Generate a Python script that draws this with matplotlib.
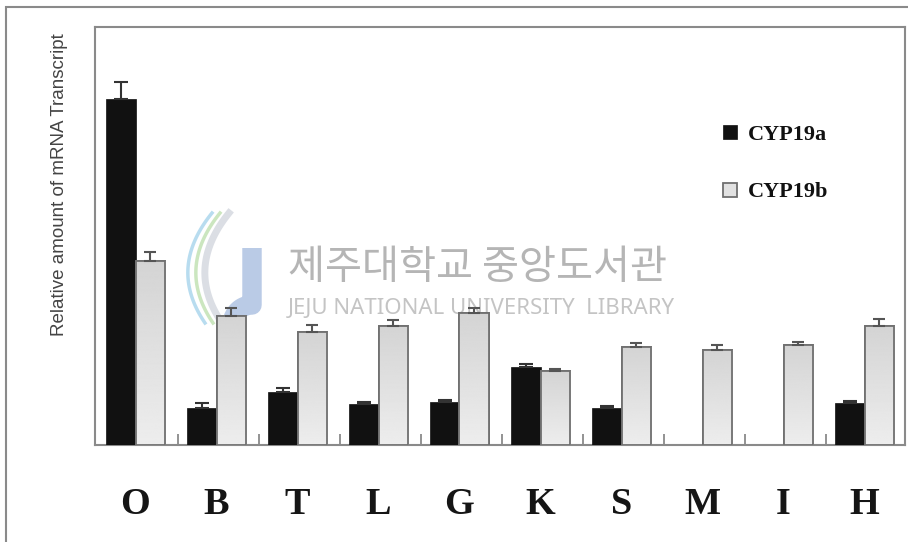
import matplotlib.pyplot as plt
import numpy as np
from matplotlib.patches import Rectangle

# tissues and relative transcript levels (arbitrary units)
tissues = ['O', 'B', 'T', 'L', 'G', 'K', 'S', 'M', 'I', 'H']
cyp19a = [3.46, 0.37, 0.53, 0.41, 0.43, 0.78, 0.37, 0.0, 0.0, 0.42]
cyp19a_err = [0.17, 0.05, 0.04, 0.02, 0.02, 0.03, 0.02, 0.0, 0.0, 0.02]
cyp19b = [1.84, 1.29, 1.13, 1.19, 1.32, 0.74, 0.98, 0.95, 1.00, 1.19]
cyp19b_err = [0.09, 0.08, 0.07, 0.06, 0.05, 0.02, 0.04, 0.05, 0.03, 0.07]

fig = plt.figure(figsize=(9.08, 5.42), dpi=100)
ax = fig.add_axes([95/908, 1-445/542, 810/908, 418/542])

def px(xp, yp):
    # pixel position in the picture -> axes fraction (for the watermark only)
    return (np.asarray(xp) - 95) / 810, (445 - np.asarray(yp)) / 418

x = np.arange(len(tissues))
w = 0.37
xa = x - w/2
xb = x + w/2

ba = ax.bar(xa, cyp19a, w, color='#111111', edgecolor='#111111', lw=0.5, zorder=3, label='CYP19a')
bb = ax.bar(xb, cyp19b, w, color='#e2e2e2', edgecolor='#707070', lw=1.3, zorder=3, label='CYP19b')

# vertical gradient inside the grey bars
grad = np.linspace(0.93, 0.83, 256).reshape(-1, 1)
for r in bb.patches:
    x0, y0 = r.get_x(), r.get_y()
    im = ax.imshow(grad, cmap='gray', vmin=0, vmax=1, aspect='auto', origin='lower',
                   extent=(x0, x0 + r.get_width(), y0, y0 + r.get_height()), zorder=3.5)
    im.set_clip_path(r)
ax.bar(xb, cyp19b, w, fill=False, edgecolor='#707070', lw=1.3, zorder=4)

# one-sided error bars
for i in range(len(x)):
    if cyp19a[i] > 0:
        ax.errorbar(xa[i], cyp19a[i], yerr=[[0], [cyp19a_err[i]]], fmt='none',
                    ecolor='#333333', elinewidth=1.5, capsize=5, capthick=1.5, zorder=5)
    ax.errorbar(xb[i], cyp19b[i], yerr=[[0], [cyp19b_err[i]]], fmt='none',
                ecolor='#555555', elinewidth=1.5, capsize=4, capthick=1.5, zorder=5)

ax.set_xlim(-0.5, 9.5)
ax.set_ylim(0, 4.18)
ax.set_yticks([])
ax.set_xticks(np.arange(9) + 0.52)
ax.set_xticklabels([])
ax.tick_params(axis='x', direction='in', length=8, width=1.2, color='#808080')
for s in ax.spines.values():
    s.set_color('#8a8a8a')
    s.set_linewidth(1.5)

for i, t in enumerate(tissues):
    ax.text(x[i], -0.6, t, ha='center', va='center', fontsize=27.5, fontweight='bold',
            family='Liberation Serif', color='#151515')

fig.text(60/908, 1-185/542, 'Relative amount of mRNA Transcript', rotation=90,
         ha='center', va='center', fontsize=13.5, family='Liberation Sans', color='#444444')

leg = ax.legend(handles=[ba, bb], loc='upper left', bbox_to_anchor=(0.762, 0.793),
                frameon=False, handlelength=0.6, handleheight=0.6, handletextpad=0.5,
                labelspacing=1.7, borderpad=0,
                prop={'family': 'Liberation Serif', 'weight': 'bold', 'size': 16})
for txt in leg.get_texts():
    txt.set_color('#111111')

# library watermark
ax.text(*px(288, 267), '제주대학교 중앙도서관', transform=ax.transAxes, fontsize=29,
        family=['Noto Sans CJK KR', 'DejaVu Sans'], color='#b5b5b5', va='center', zorder=1)
ax.text(*px(288, 309), 'JEJU NATIONAL UNIVERSITY  LIBRARY', transform=ax.transAxes, fontsize=16,
        family='Noto Sans', color='#c4c4c4', va='center', zorder=1)
tt = np.linspace(0, 1, 60)
sx = 212 - 89*tt + 82*tt**2
sy = 213 + 110*tt
for dx, col, lw in [(0, '#a6d4ec', 2.5), (8, '#bfe0b0', 2.5), (17, '#d2d6de', 5)]:
    ax.plot(*px(sx + dx, sy), transform=ax.transAxes, color=col, lw=lw, alpha=0.8, zorder=1)
jt = np.linspace(0, 1, 30)
jx = np.concatenate([np.full(30, 252.0), 252 - 20*np.sin(jt*np.pi/2)])
jy = np.concatenate([np.linspace(248, 305, 30), 305 + 20*(1 - np.cos(jt*np.pi/2))])
ax.plot(*px(jx, jy), transform=ax.transAxes, color='#aec2e2', lw=14, alpha=0.85,
        solid_capstyle='butt', zorder=1)

# outer border of the figure
fig.add_artist(Rectangle((6/908, -0.1), 1.2, 1-7/542+0.1, transform=fig.transFigure,
                         fill=False, edgecolor='#8a8a8a', lw=1.5))

fig.savefig('out.png', dpi=100)
